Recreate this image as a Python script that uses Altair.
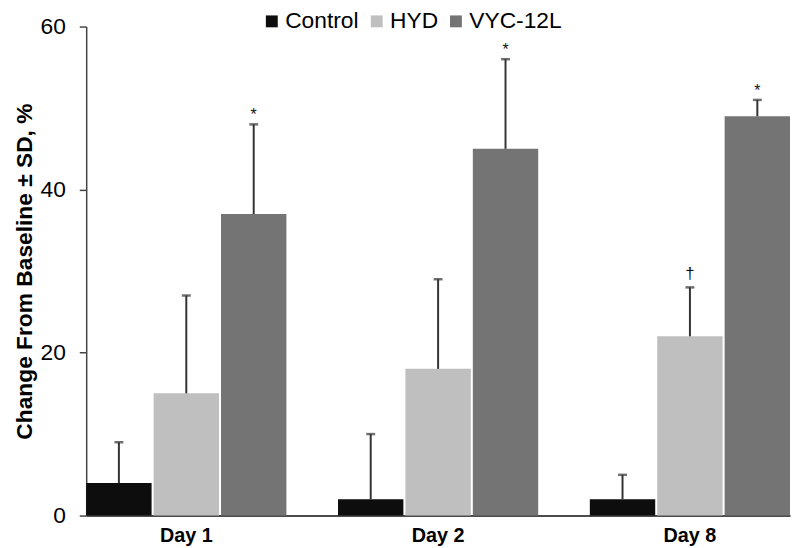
import altair as alt
import pandas as pd

days = ["Day 1", "Day 2", "Day 8"]
groups = ["Control", "HYD", "VYC-12L"]
colors = ["#0d0d0d", "#bfbfbf", "#747474"]

control_mean = [4, 2, 2]
control_sd = [5, 8, 3]
hyd_mean = [15, 18, 22]
hyd_sd = [12, 11, 6]
vyc_mean = [37, 45, 49]
vyc_sd = [11, 11, 2]

control_mark = ["", "", ""]
hyd_mark = ["", "", "\u2020"]
vyc_mark = ["*", "*", "*"]

rows = []
for g, means, sds, marks in [
    ("Control", control_mean, control_sd, control_mark),
    ("HYD", hyd_mean, hyd_sd, hyd_mark),
    ("VYC-12L", vyc_mean, vyc_sd, vyc_mark),
]:
    for d, m, s, k in zip(days, means, sds, marks):
        rows.append({"day": d, "group": g, "mean": m, "upper": m + s, "sig": k})
df = pd.DataFrame(rows)

FONT = "Liberation Sans"

x_enc = alt.X(
    "day:N",
    sort=days,
    scale=alt.Scale(paddingInner=0.205, paddingOuter=0),
    axis=alt.Axis(
        title=None, labelAngle=0, ticks=False, labelFontSize=20,
        labelFontWeight="bold", labelColor="#000", labelPadding=10,
        domainColor="#111", domainWidth=1.5, labelFont=FONT,
    ),
)
xo_enc = alt.XOffset("group:N", sort=groups,
                     scale=alt.Scale(paddingInner=0.03, paddingOuter=0))

base = alt.Chart(df).encode(x=x_enc, xOffset=xo_enc)

bars = base.mark_bar().encode(
    y=alt.Y(
        "mean:Q",
        scale=alt.Scale(domain=[0, 60], nice=False),
        axis=alt.Axis(
            values=[0, 20, 40, 60], grid=False, tickSize=7, tickColor="#444",
            tickWidth=1.5, domainColor="#444", domainWidth=1.5,
            labelFontSize=23, labelColor="#000", labelPadding=14, labelFont=FONT,
            title="Change From Baseline \u00b1 SD, %", titleFontSize=23,
            titleFontWeight="bold", titleColor="#000", titlePadding=4,
            titleFont=FONT,
        ),
    ),
    color=alt.Color(
        "group:N",
        sort=groups,
        scale=alt.Scale(domain=groups, range=colors),
        legend=alt.Legend(
            title=None, orient="none", direction="horizontal", columns=3,
            legendX=176, legendY=-17, symbolType="square", symbolSize=144,
            symbolStrokeWidth=0, labelFontSize=23, labelFont=FONT,
            labelColor="#000", labelOffset=2, columnPadding=6, padding=0,
        ),
    ),
)

errs = base.mark_rule(color="#333", strokeWidth=2).encode(
    y="mean:Q", y2="upper:Q"
)
caps = base.mark_tick(color="#333", thickness=2.5, size=9, orient="horizontal").encode(
    y="upper:Q"
)
stars = base.transform_filter(alt.datum.sig == "*").mark_text(
    font=FONT, fontSize=16, color="#111", baseline="alphabetic", dy=-4
).encode(y="upper:Q", text="sig:N")
daggers = base.transform_filter(alt.datum.sig == "\u2020").mark_text(
    font=FONT, fontSize=17, color="#111", baseline="alphabetic", dy=-8
).encode(y="upper:Q", text="sig:N")

chart = (
    alt.layer(bars, errs, caps, stars, daggers)
    .properties(
        width=711, height=494,
        autosize=alt.AutoSizeParams(type="none"),
        padding={"left": 79, "top": 16, "right": 2, "bottom": 30},
    )
    .configure_view(stroke=None)
)

chart.save("out.html", embed_options={"renderer": "svg", "actions": False})
